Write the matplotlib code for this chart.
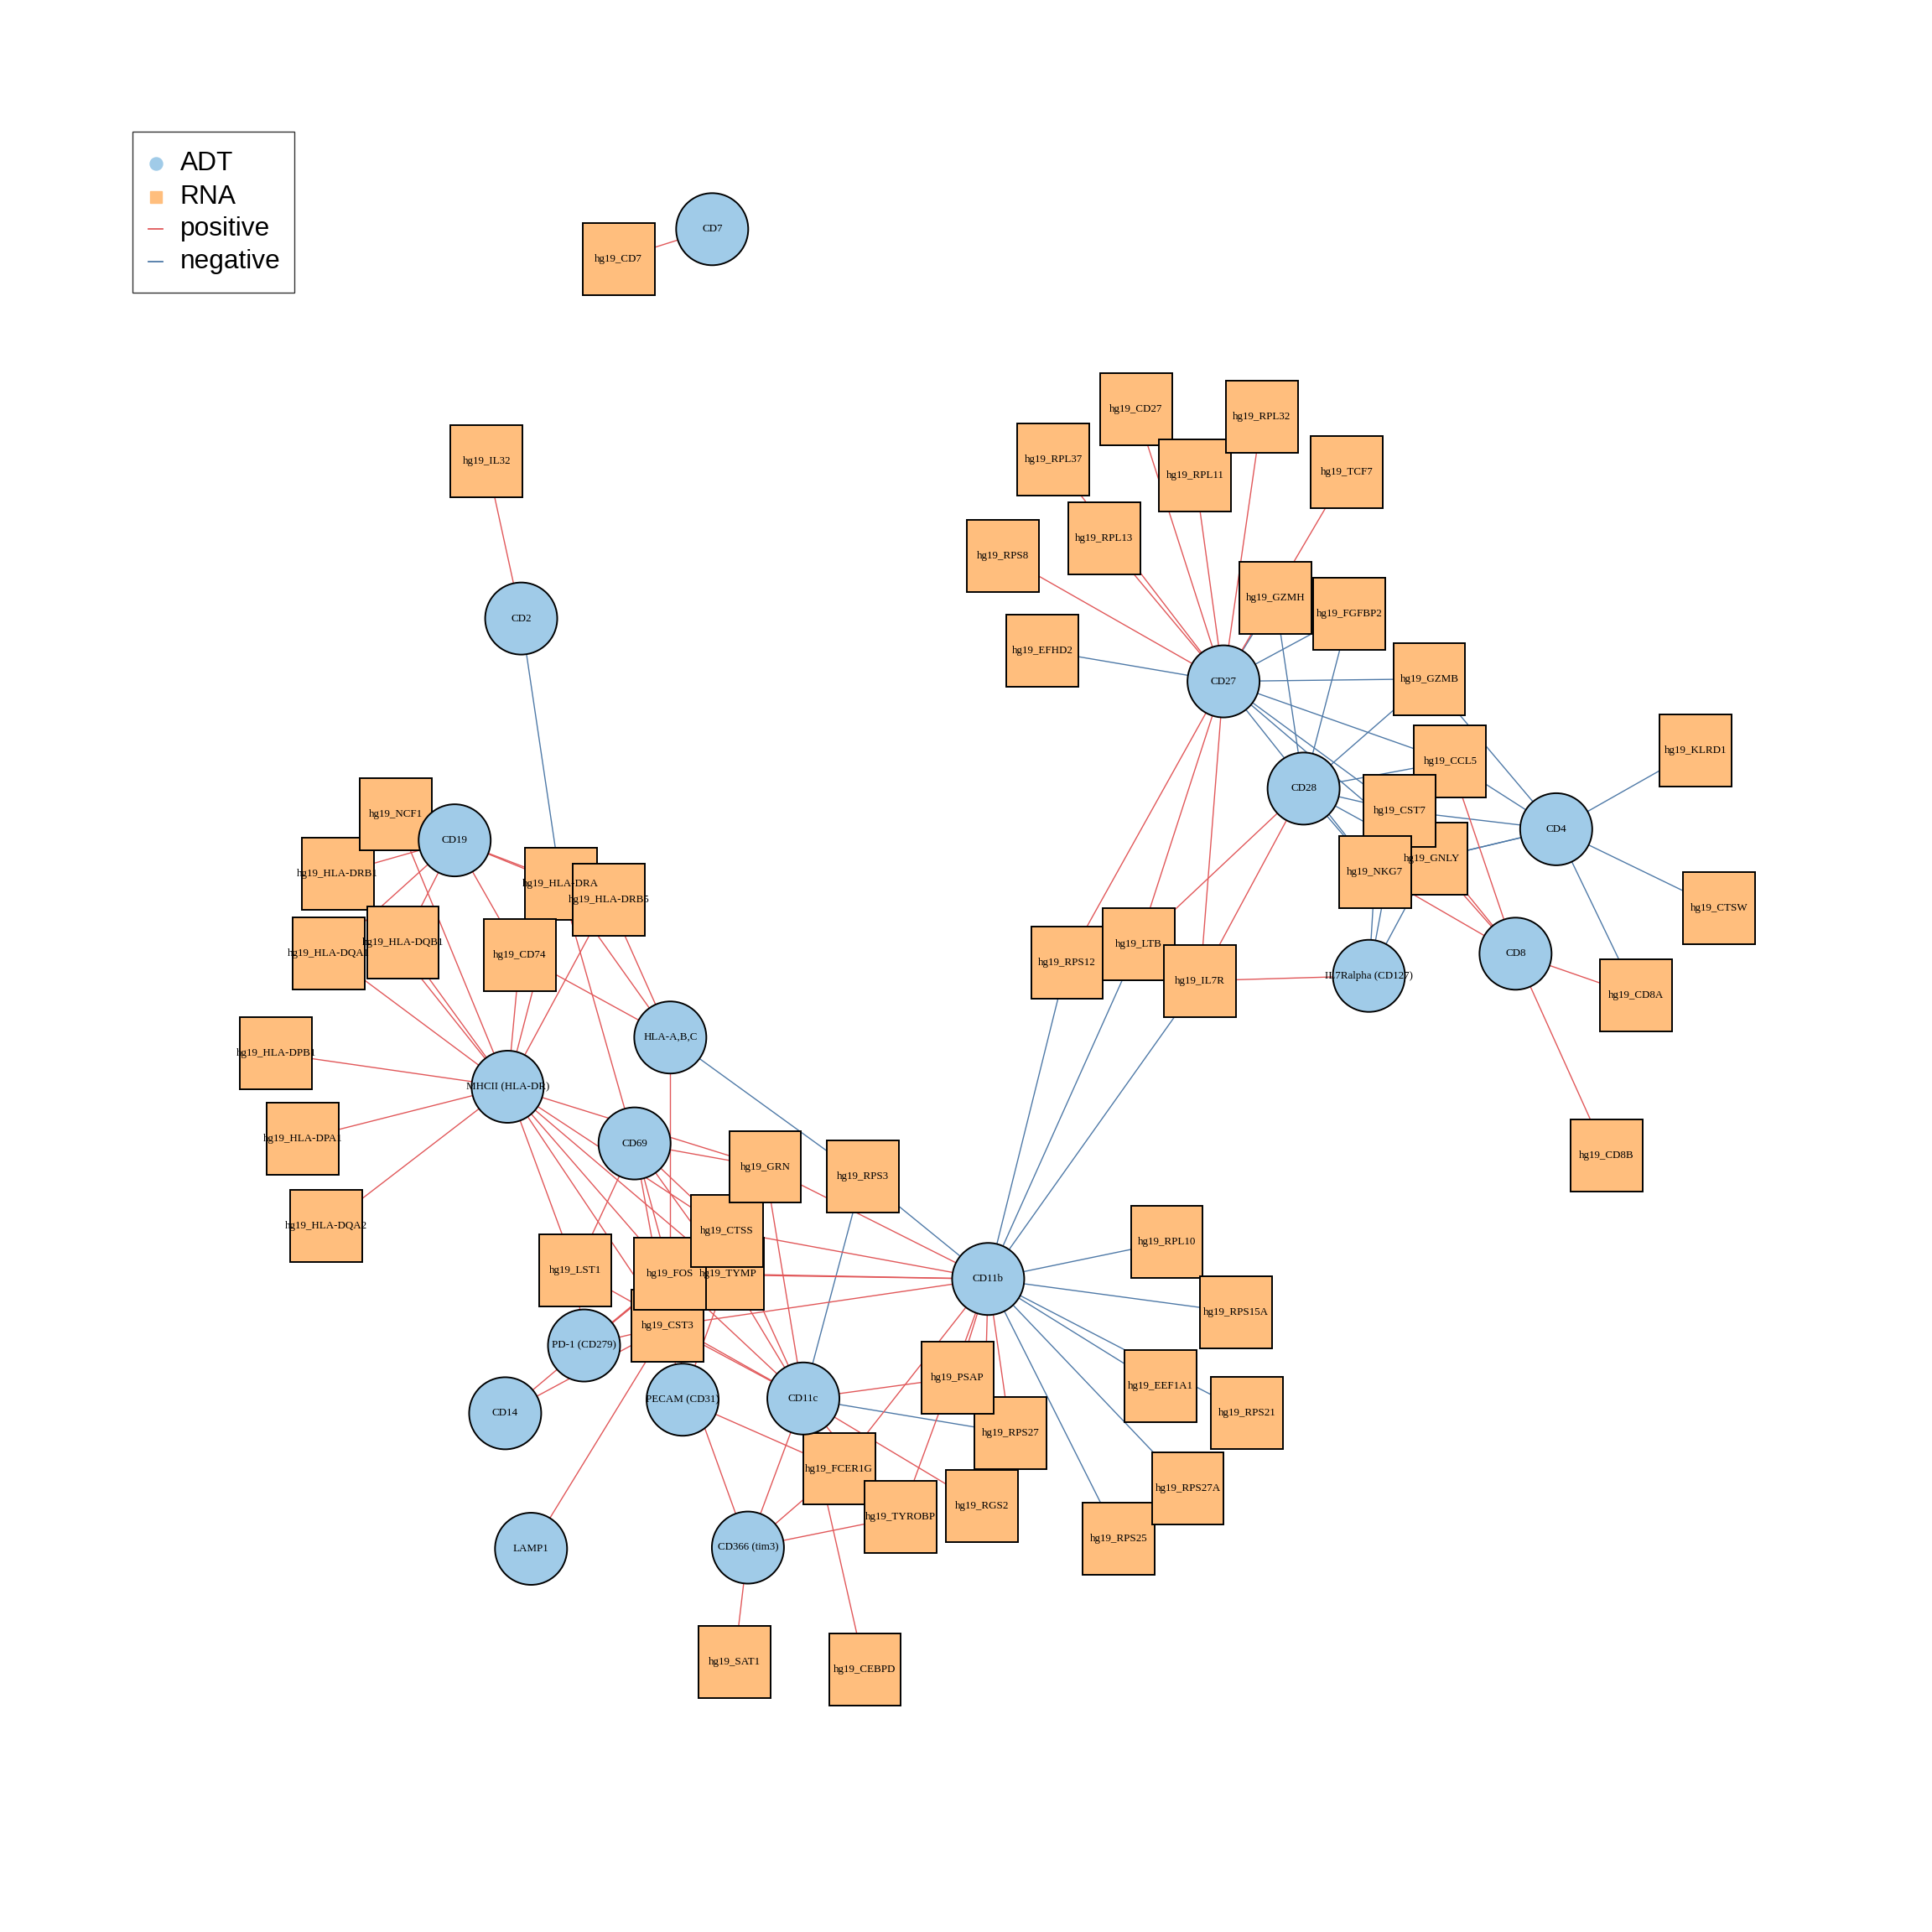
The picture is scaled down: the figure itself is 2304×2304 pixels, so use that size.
import matplotlib
matplotlib.use("Agg")
import matplotlib.pyplot as plt
from matplotlib.patches import Circle, Rectangle

# ---------------- data ----------------
adt_names = ["CD7", "CD2", "CD19", "HLA-A,B,C", "MHCII (HLA-DR)", "CD69", "CD11b",
             "PD-1 (CD279)", "CD14", "PECAM (CD31)", "CD11c", "LAMP1", "CD366 (tim3)",
             "CD27", "CD28", "CD4", "CD8", "IL7Ralpha (CD127)"]
adt_x = [578, 423, 369, 544, 412, 515, 802, 474, 410, 554, 652, 431, 607, 993, 1058, 1263, 1230, 1111]
adt_y = [186, 502, 682, 842, 882, 928, 1038, 1092, 1147, 1136, 1135, 1257, 1256, 553, 640, 673, 774, 792]

rna_names = ["hg19_CD7", "hg19_IL32", "hg19_HLA-DRB1", "hg19_NCF1", "hg19_HLA-DRA", "hg19_HLA-DRB5",
             "hg19_HLA-DQA1", "hg19_HLA-DQB1", "hg19_CD74", "hg19_HLA-DPB1", "hg19_HLA-DPA1",
             "hg19_HLA-DQA2", "hg19_LST1", "hg19_CST3", "hg19_TYMP", "hg19_FOS", "hg19_CTSS",
             "hg19_GRN", "hg19_RPS3", "hg19_RGS2", "hg19_RPS27", "hg19_PSAP", "hg19_FCER1G",
             "hg19_TYROBP", "hg19_SAT1", "hg19_CEBPD", "hg19_RPL10", "hg19_RPS15A", "hg19_EEF1A1",
             "hg19_RPS21", "hg19_RPS25", "hg19_RPS27A", "hg19_CD27", "hg19_RPL11", "hg19_RPL32",
             "hg19_RPL37", "hg19_TCF7", "hg19_RPS8", "hg19_RPL13", "hg19_GZMH", "hg19_FGFBP2",
             "hg19_EFHD2", "hg19_GZMB", "hg19_CCL5", "hg19_KLRD1", "hg19_GNLY", "hg19_CST7",
             "hg19_NKG7", "hg19_CTSW", "hg19_RPS12", "hg19_LTB", "hg19_IL7R", "hg19_CD8A", "hg19_CD8B"]
rna_x = [502, 395, 274, 321, 455, 494, 267, 327, 422, 224, 246, 265, 467, 542, 591, 544, 590,
         621, 700, 797, 820, 777, 681, 731, 596, 702, 947, 1003, 942, 1012, 908, 964, 922, 970,
         1024, 855, 1093, 814, 896, 1035, 1095, 846, 1160, 1177, 1376, 1162, 1136, 1116, 1395,
         866, 924, 974, 1328, 1304]
rna_y = [210, 374, 709, 661, 717, 730, 774, 765, 775, 855, 924, 995, 1031, 1076, 1034, 1034, 999,
         947, 955, 1222, 1163, 1118, 1192, 1231, 1349, 1355, 1008, 1065, 1125, 1147, 1249, 1208,
         332, 386, 338, 373, 383, 451, 437, 485, 498, 528, 551, 618, 609, 697, 658, 708, 737,
         781, 766, 796, 808, 938]

pos_src = ["CD7", "CD2"] + ["CD19"] * 7 + ["MHCII (HLA-DR)"] * 16 + ["HLA-A,B,C"] * 4 + \
          ["CD69"] * 7 + ["CD11b"] * 10 + ["CD11c"] * 11 + ["PD-1 (CD279)"] * 4 + \
          ["CD14"] * 2 + ["LAMP1"] + ["PECAM (CD31)"] * 3 + ["CD366 (tim3)"] * 4 + \
          ["CD27"] * 10 + ["CD28"] * 2 + ["IL7Ralpha (CD127)"] + ["CD8"] * 6
pos_dst = ["hg19_CD7", "hg19_IL32",
           "hg19_NCF1", "hg19_HLA-DRB1", "hg19_HLA-DQA1", "hg19_HLA-DQB1", "hg19_CD74",
           "hg19_HLA-DRA", "hg19_HLA-DRB5",
           "hg19_NCF1", "hg19_HLA-DRB1", "hg19_HLA-DQA1", "hg19_HLA-DQB1", "hg19_CD74",
           "hg19_HLA-DRA", "hg19_HLA-DRB5", "hg19_HLA-DPB1", "hg19_HLA-DPA1", "hg19_HLA-DQA2",
           "hg19_GRN", "hg19_LST1", "hg19_CST3", "hg19_FOS", "hg19_CTSS", "hg19_TYMP",
           "hg19_CD74", "hg19_HLA-DRA", "hg19_HLA-DRB5", "hg19_FOS",
           "hg19_HLA-DRA", "hg19_GRN", "hg19_LST1", "hg19_FOS", "hg19_CST3", "hg19_CTSS", "hg19_TYMP",
           "hg19_GRN", "hg19_CTSS", "hg19_TYMP", "hg19_FOS", "hg19_CST3", "hg19_PSAP",
           "hg19_FCER1G", "hg19_TYROBP", "hg19_RGS2", "hg19_RPS27",
           "hg19_GRN", "hg19_LST1", "hg19_CST3", "hg19_FOS", "hg19_TYMP", "hg19_CTSS",
           "hg19_PSAP", "hg19_RGS2", "hg19_TYROBP", "hg19_CEBPD", "CD366 (tim3)",
           "hg19_LST1", "hg19_FOS", "hg19_CTSS", "hg19_CST3",
           "hg19_FOS", "hg19_CST3",
           "hg19_CST3",
           "hg19_CST3", "hg19_FCER1G", "hg19_TYMP",
           "hg19_CST3", "hg19_FCER1G", "hg19_TYROBP", "hg19_SAT1",
           "hg19_RPS8", "hg19_RPL13", "hg19_RPL37", "hg19_RPL11", "hg19_CD27", "hg19_RPL32",
           "hg19_TCF7", "hg19_RPS12", "hg19_LTB", "hg19_IL7R",
           "hg19_LTB", "hg19_IL7R",
           "hg19_IL7R",
           "hg19_CCL5", "hg19_CST7", "hg19_GNLY", "hg19_NKG7", "hg19_CD8A", "hg19_CD8B"]

neg_src = ["CD2", "HLA-A,B,C"] + ["CD11b"] * 10 + ["CD11c"] * 2 + ["CD27"] * 8 + \
          ["CD28"] * 7 + ["CD4"] * 8 + ["IL7Ralpha (CD127)"] * 3
neg_dst = ["hg19_HLA-DRA", "hg19_RPS3",
           "hg19_RPS3", "hg19_RPS25", "hg19_RPS27A", "hg19_EEF1A1", "hg19_RPS21",
           "hg19_RPS15A", "hg19_RPL10", "hg19_RPS12", "hg19_LTB", "hg19_IL7R",
           "hg19_RPS3", "hg19_RPS27",
           "hg19_EFHD2", "hg19_GZMH", "hg19_FGFBP2", "hg19_GZMB", "hg19_CCL5", "hg19_CST7",
           "hg19_GNLY", "hg19_NKG7",
           "hg19_GZMH", "hg19_FGFBP2", "hg19_GZMB", "hg19_CCL5", "hg19_CST7", "hg19_GNLY", "hg19_NKG7",
           "hg19_GZMB", "hg19_CCL5", "hg19_CST7", "hg19_GNLY", "hg19_NKG7", "hg19_KLRD1",
           "hg19_CTSW", "hg19_CD8A",
           "hg19_NKG7", "hg19_CST7", "hg19_GNLY"]

legend_labels = ["ADT", "RNA", "positive", "negative"]

# ---------------- style ----------------
ADT_COLOR = "#A0CBE8"
RNA_COLOR = "#FFBE7D"
POS_COLOR = "#E15759"
NEG_COLOR = "#4E79A7"
FRAME = 1568.0
HALF = 29.25

pos = {}
for n, x, y in zip(adt_names, adt_x, adt_y):
    pos[n] = (x, y)
for n, x, y in zip(rna_names, rna_x, rna_y):
    pos[n] = (x, y)

fig = plt.figure(figsize=(23.04, 23.04), dpi=100)
ax = fig.add_axes([0, 0, 1, 1])
ax.set_xlim(0, FRAME)
ax.set_ylim(FRAME, 0)
ax.set_aspect("equal")
ax.axis("off")

for s, d in zip(neg_src, neg_dst):
    (x1, y1), (x2, y2) = pos[s], pos[d]
    ax.plot([x1, x2], [y1, y2], color=NEG_COLOR, lw=1.0, zorder=1, solid_capstyle="butt")
for s, d in zip(pos_src, pos_dst):
    (x1, y1), (x2, y2) = pos[s], pos[d]
    ax.plot([x1, x2], [y1, y2], color=POS_COLOR, lw=1.0, zorder=1, solid_capstyle="butt")

z = 2
for n, x, y in zip(rna_names, rna_x, rna_y):
    ax.add_patch(Rectangle((x - HALF, y - HALF), 2 * HALF, 2 * HALF, facecolor=RNA_COLOR,
                           edgecolor="black", lw=1.4, zorder=z))
    z += 0.01
for n, x, y in zip(adt_names, adt_x, adt_y):
    ax.add_patch(Circle((x, y), HALF, facecolor=ADT_COLOR, edgecolor="black", lw=1.4, zorder=z))
    z += 0.01

for n, x, y in list(zip(rna_names, rna_x, rna_y)) + list(zip(adt_names, adt_x, adt_y)):
    ax.text(x, y, n, ha="center", va="center", fontsize=9.4, family=["Liberation Serif", "DejaVu Serif"],
            color="black", zorder=10)

# ---------------- legend ----------------
ax.add_patch(Rectangle((107.5, 106.8), 131.4, 130.7, facecolor="white", edgecolor="#333333",
                       lw=1.0, zorder=20))
rows_y = [133.0, 160.0, 186.0, 212.5]
mx = 126.3
ax.plot([mx], [rows_y[0]], marker="o", ms=10.8, color=ADT_COLOR, mec=ADT_COLOR, ls="none", zorder=21)
ax.plot([mx], [rows_y[1]], marker="s", ms=9.8, color=RNA_COLOR, mec=RNA_COLOR, ls="none", zorder=21)
ax.plot([120.2, 132.2], [rows_y[2], rows_y[2]], color=POS_COLOR, lw=1.3, zorder=21)
ax.plot([120.2, 132.2], [rows_y[3], rows_y[3]], color=NEG_COLOR, lw=1.3, zorder=21)
for lab, yy in zip(legend_labels, rows_y):
    ax.text(146.0, yy, lab, ha="left", va="center", fontsize=22.8,
            family=["Liberation Sans", "DejaVu Sans"], color="black", zorder=21)

fig.savefig("out.png", dpi=100, facecolor="white")
